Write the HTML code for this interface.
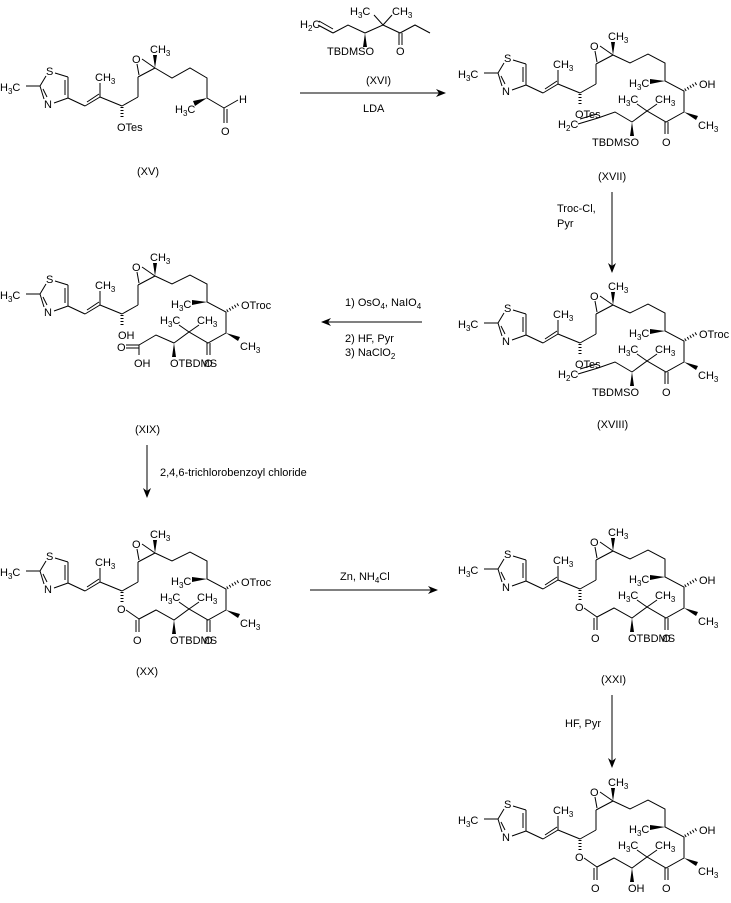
<!DOCTYPE html>
<html><head><meta charset="utf-8"><style>
html,body{margin:0;padding:0;background:#fff;}
svg{display:block;}
text{font-family:"Liberation Sans",sans-serif;font-size:11px;fill:#000;}
.s{font-size:8px;}
line,polyline{stroke:#000;stroke-width:1;fill:none;}
.h{stroke-width:3;stroke-dasharray:1 2;}
.w{fill:#000;stroke:none;}
</style></head><body>
<svg width="731" height="903" viewBox="0 0 731 903" xmlns="http://www.w3.org/2000/svg">
<defs>
<marker id="ar" markerWidth="10" markerHeight="8" refX="9" refY="4" orient="auto" markerUnits="userSpaceOnUse">
<path d="M0,0 L10,4 L0,8 L3,4 Z" fill="#000"/></marker>
</defs>

<!-- ================= XV ================= -->
<g transform="translate(-458,13)">
<text x="458" y="78">H<tspan class="s" dy="3">3</tspan><tspan dy="-3">C</tspan></text>
<line x1="484" y1="73" x2="498" y2="73"/><line x1="498" y1="73" x2="504" y2="63"/>
<text x="504" y="62">S</text>
<line x1="513" y1="60" x2="526" y2="64"/><line x1="526" y1="64" x2="526" y2="85"/><line x1="523" y1="67" x2="523" y2="82"/>
<line x1="526" y1="85" x2="512" y2="90"/><text x="502" y="95">N</text>
<line x1="502" y1="86" x2="498" y2="73"/><line x1="505" y1="84" x2="501" y2="76"/>
<line x1="526" y1="85" x2="543" y2="93"/><line x1="543" y1="93" x2="558" y2="84"/><line x1="545" y1="89" x2="557" y2="81"/>
<line x1="558" y1="84" x2="558" y2="70"/><text x="553" y="68">CH<tspan class="s" dy="3">3</tspan></text>
<line x1="558" y1="84" x2="580" y2="93"/><line class="h" x1="580" y1="94" x2="580" y2="106"/>
<text x="575" y="118">OTes</text>
<line x1="580" y1="93" x2="596" y2="84"/><line x1="596" y1="84" x2="596" y2="64"/>
<line x1="596" y1="64" x2="613" y2="55"/><line x1="597" y1="62" x2="595" y2="51"/><line x1="600" y1="46" x2="613" y2="55"/>
<text x="590" y="50">O</text>
<polygon class="w" points="613,55 611,42 615,42"/><text x="608" y="40">CH<tspan class="s" dy="3">3</tspan></text>
<polyline points="613,55 630,65 648,55 665,65 665,85 682,95"/>
<polygon class="w" points="665,85 651,88 653,93"/><text x="633" y="100">H<tspan class="s" dy="3">3</tspan><tspan dy="-3">C</tspan></text>
<line x1="682" y1="95" x2="696" y2="87"/><text x="697" y="90">H</text>
<line x1="682" y1="95" x2="682" y2="110"/><line x1="685" y1="96" x2="685" y2="110"/>
<text x="679" y="122">O</text>
</g>
<text x="137" y="175">(XV)</text>

<!-- Reagent XVI -->
<text x="300" y="28">H<tspan class="s" dy="3">2</tspan><tspan dy="-3">C</tspan></text>
<line x1="318" y1="25" x2="333" y2="33"/><line x1="319" y1="21" x2="333" y2="29"/>
<polyline points="333,33 348,25 365,33"/>
<polygon class="w" points="365,33 363,47 367,47"/><text x="327" y="55">TBDMSO</text>
<line x1="365" y1="33" x2="383" y2="25"/>
<line x1="383" y1="25" x2="374" y2="15"/><text x="350" y="15">H<tspan class="s" dy="3">3</tspan><tspan dy="-3">C</tspan></text>
<line x1="383" y1="25" x2="392" y2="15"/><text x="392" y="15">CH<tspan class="s" dy="3">3</tspan></text>
<line x1="383" y1="25" x2="400" y2="33"/><line x1="399" y1="33" x2="399" y2="45"/><line x1="402" y1="33" x2="402" y2="45"/>
<text x="396" y="55">O</text>
<polyline points="400,33 415,25 430,33"/>

<line x1="300" y1="93" x2="445" y2="93" marker-end="url(#ar)"/>
<text x="366" y="84">(XVI)</text><text x="363" y="112">LDA</text>

<!-- ================= XVII ================= -->
<g id="xvii">
<text x="458" y="78">H<tspan class="s" dy="3">3</tspan><tspan dy="-3">C</tspan></text>
<line x1="484" y1="73" x2="498" y2="73"/><line x1="498" y1="73" x2="504" y2="63"/>
<text x="504" y="62">S</text>
<line x1="513" y1="60" x2="526" y2="64"/><line x1="526" y1="64" x2="526" y2="85"/><line x1="523" y1="67" x2="523" y2="82"/>
<line x1="526" y1="85" x2="512" y2="90"/><text x="502" y="95">N</text>
<line x1="502" y1="86" x2="498" y2="73"/><line x1="505" y1="84" x2="501" y2="76"/>
<line x1="526" y1="85" x2="543" y2="93"/><line x1="543" y1="93" x2="558" y2="84"/><line x1="545" y1="89" x2="557" y2="81"/>
<line x1="558" y1="84" x2="558" y2="70"/><text x="553" y="68">CH<tspan class="s" dy="3">3</tspan></text>
<line x1="558" y1="84" x2="580" y2="93"/><line class="h" x1="580" y1="94" x2="580" y2="106"/>
<text x="575" y="118">OTes</text>
<line x1="580" y1="93" x2="596" y2="84"/><line x1="596" y1="84" x2="596" y2="64"/>
<line x1="596" y1="64" x2="613" y2="55"/><line x1="597" y1="62" x2="595" y2="51"/><line x1="600" y1="46" x2="613" y2="55"/>
<text x="590" y="50">O</text>
<polygon class="w" points="613,55 611,42 615,42"/><text x="608" y="40">CH<tspan class="s" dy="3">3</tspan></text>
<polyline points="613,55 630,63 648,54 665,63 665,81 684,91 684,112 666,122 647,111 632,122"/>
<polygon class="w" points="665,81 650,79 650,84"/><text x="629" y="87">H<tspan class="s" dy="3">3</tspan><tspan dy="-3">C</tspan></text>
<line class="h" x1="685" y1="90" x2="697" y2="83"/><text x="699" y="88">OH</text>
<polygon class="w" points="684,112 698,116 696,120"/><text x="698" y="129">CH<tspan class="s" dy="3">3</tspan></text>
<line x1="665" y1="122" x2="665" y2="134"/><line x1="668" y1="122" x2="668" y2="134"/><text x="662" y="146">O</text>
<line x1="647" y1="111" x2="637" y2="104"/><text x="618" y="103">H<tspan class="s" dy="3">3</tspan><tspan dy="-3">C</tspan></text>
<line x1="647" y1="111" x2="657" y2="104"/><text x="655" y="103">CH<tspan class="s" dy="3">3</tspan></text>
<polygon class="w" points="632,122 630,136 634,136"/><text x="592" y="146">TBDMSO</text>
<polyline points="632,122 615,112 598,118"/>
<line x1="598" y1="118" x2="578" y2="124"/><line x1="597" y1="114" x2="580" y2="119"/>
<text x="558" y="128">H<tspan class="s" dy="3">2</tspan><tspan dy="-3">C</tspan></text>
</g>
<text x="598" y="180">(XVII)</text>

<line x1="612" y1="192" x2="612" y2="272" marker-end="url(#ar)"/>
<text x="557" y="212">Troc-Cl,</text><text x="557" y="227">Pyr</text>

<!-- ================= XVIII ================= -->
<g transform="translate(0,250)">
<text x="458" y="78">H<tspan class="s" dy="3">3</tspan><tspan dy="-3">C</tspan></text>
<line x1="484" y1="73" x2="498" y2="73"/><line x1="498" y1="73" x2="504" y2="63"/>
<text x="504" y="62">S</text>
<line x1="513" y1="60" x2="526" y2="64"/><line x1="526" y1="64" x2="526" y2="85"/><line x1="523" y1="67" x2="523" y2="82"/>
<line x1="526" y1="85" x2="512" y2="90"/><text x="502" y="95">N</text>
<line x1="502" y1="86" x2="498" y2="73"/><line x1="505" y1="84" x2="501" y2="76"/>
<line x1="526" y1="85" x2="543" y2="93"/><line x1="543" y1="93" x2="558" y2="84"/><line x1="545" y1="89" x2="557" y2="81"/>
<line x1="558" y1="84" x2="558" y2="70"/><text x="553" y="68">CH<tspan class="s" dy="3">3</tspan></text>
<line x1="558" y1="84" x2="580" y2="93"/><line class="h" x1="580" y1="94" x2="580" y2="106"/>
<text x="575" y="118">OTes</text>
<line x1="580" y1="93" x2="596" y2="84"/><line x1="596" y1="84" x2="596" y2="64"/>
<line x1="596" y1="64" x2="613" y2="55"/><line x1="597" y1="62" x2="595" y2="51"/><line x1="600" y1="46" x2="613" y2="55"/>
<text x="590" y="50">O</text>
<polygon class="w" points="613,55 611,42 615,42"/><text x="608" y="40">CH<tspan class="s" dy="3">3</tspan></text>
<polyline points="613,55 630,63 648,54 665,63 665,81 684,91 684,112 666,122 647,111 632,122"/>
<polygon class="w" points="665,81 650,79 650,84"/><text x="629" y="87">H<tspan class="s" dy="3">3</tspan><tspan dy="-3">C</tspan></text>
<line class="h" x1="685" y1="90" x2="697" y2="83"/><text x="699" y="88">OTroc</text>
<polygon class="w" points="684,112 698,116 696,120"/><text x="698" y="129">CH<tspan class="s" dy="3">3</tspan></text>
<line x1="665" y1="122" x2="665" y2="134"/><line x1="668" y1="122" x2="668" y2="134"/><text x="662" y="146">O</text>
<line x1="647" y1="111" x2="637" y2="104"/><text x="618" y="103">H<tspan class="s" dy="3">3</tspan><tspan dy="-3">C</tspan></text>
<line x1="647" y1="111" x2="657" y2="104"/><text x="655" y="103">CH<tspan class="s" dy="3">3</tspan></text>
<polygon class="w" points="632,122 630,136 634,136"/><text x="592" y="146">TBDMSO</text>
<polyline points="632,122 615,112 598,118"/>
<line x1="598" y1="118" x2="578" y2="124"/><line x1="597" y1="114" x2="580" y2="119"/>
<text x="558" y="128">H<tspan class="s" dy="3">2</tspan><tspan dy="-3">C</tspan></text>
</g>
<text x="597" y="428">(XVIII)</text>

<line x1="422" y1="322" x2="322" y2="322" marker-end="url(#ar)"/>
<text x="345" y="306">1) OsO<tspan class="s" dy="3">4</tspan><tspan dy="-3">, NaIO</tspan><tspan class="s" dy="3">4</tspan></text>
<text x="345" y="342">2) HF, Pyr</text>
<text x="345" y="356">3) NaClO<tspan class="s" dy="3">2</tspan></text>

<!-- ================= XIX ================= -->
<g transform="translate(-458,221)">
<text x="458" y="78">H<tspan class="s" dy="3">3</tspan><tspan dy="-3">C</tspan></text>
<line x1="484" y1="73" x2="498" y2="73"/><line x1="498" y1="73" x2="504" y2="63"/>
<text x="504" y="62">S</text>
<line x1="513" y1="60" x2="526" y2="64"/><line x1="526" y1="64" x2="526" y2="85"/><line x1="523" y1="67" x2="523" y2="82"/>
<line x1="526" y1="85" x2="512" y2="90"/><text x="502" y="95">N</text>
<line x1="502" y1="86" x2="498" y2="73"/><line x1="505" y1="84" x2="501" y2="76"/>
<line x1="526" y1="85" x2="543" y2="93"/><line x1="543" y1="93" x2="558" y2="84"/><line x1="545" y1="89" x2="557" y2="81"/>
<line x1="558" y1="84" x2="558" y2="70"/><text x="553" y="68">CH<tspan class="s" dy="3">3</tspan></text>
<line x1="558" y1="84" x2="580" y2="93"/><line class="h" x1="580" y1="94" x2="580" y2="106"/>
<text x="576" y="118">OH</text>
<line x1="580" y1="93" x2="596" y2="84"/><line x1="596" y1="84" x2="596" y2="64"/>
<line x1="596" y1="64" x2="613" y2="55"/><line x1="597" y1="62" x2="595" y2="51"/><line x1="600" y1="46" x2="613" y2="55"/>
<text x="590" y="50">O</text>
<polygon class="w" points="613,55 611,42 615,42"/><text x="608" y="40">CH<tspan class="s" dy="3">3</tspan></text>
<polyline points="613,55 630,63 648,54 665,63 665,81 684,91 684,112 666,122 647,111 632,122"/>
<polygon class="w" points="665,81 650,79 650,84"/><text x="629" y="87">H<tspan class="s" dy="3">3</tspan><tspan dy="-3">C</tspan></text>
<line class="h" x1="685" y1="90" x2="697" y2="83"/><text x="699" y="88">OTroc</text>
<polygon class="w" points="684,112 698,116 696,120"/><text x="698" y="129">CH<tspan class="s" dy="3">3</tspan></text>
<line x1="665" y1="122" x2="665" y2="134"/><line x1="668" y1="122" x2="668" y2="134"/><text x="662" y="146">O</text>
<line x1="647" y1="111" x2="637" y2="104"/><text x="618" y="103">H<tspan class="s" dy="3">3</tspan><tspan dy="-3">C</tspan></text>
<line x1="647" y1="111" x2="657" y2="104"/><text x="655" y="103">CH<tspan class="s" dy="3">3</tspan></text>
<polygon class="w" points="632,122 630,136 634,136"/><text x="628" y="146">OTBDMS</text>
<polyline points="632,122 614,114 597,124"/>
<line x1="597" y1="124" x2="584" y2="124"/><line x1="597" y1="127" x2="584" y2="127"/>
<text x="575" y="130">O</text>
<line x1="597" y1="124" x2="597" y2="134"/><text x="592" y="146">OH</text>
</g>
<text x="135" y="433">(XIX)</text>

<line x1="147" y1="445" x2="147" y2="497" marker-end="url(#ar)"/>
<text x="160" y="476">2,4,6-trichlorobenzoyl chloride</text>

<!-- ================= XX ================= -->
<g transform="translate(-458,498)">
<text x="458" y="78">H<tspan class="s" dy="3">3</tspan><tspan dy="-3">C</tspan></text>
<line x1="484" y1="73" x2="498" y2="73"/><line x1="498" y1="73" x2="504" y2="63"/>
<text x="504" y="62">S</text>
<line x1="513" y1="60" x2="526" y2="64"/><line x1="526" y1="64" x2="526" y2="85"/><line x1="523" y1="67" x2="523" y2="82"/>
<line x1="526" y1="85" x2="512" y2="90"/><text x="502" y="95">N</text>
<line x1="502" y1="86" x2="498" y2="73"/><line x1="505" y1="84" x2="501" y2="76"/>
<line x1="526" y1="85" x2="543" y2="93"/><line x1="543" y1="93" x2="558" y2="84"/><line x1="545" y1="89" x2="557" y2="81"/>
<line x1="558" y1="84" x2="558" y2="70"/><text x="553" y="68">CH<tspan class="s" dy="3">3</tspan></text>
<line x1="558" y1="84" x2="580" y2="93"/><line class="h" x1="580" y1="94" x2="580" y2="104"/>
<text x="575" y="115">O</text>
<line x1="584" y1="112" x2="597" y2="121"/><line x1="597" y1="121" x2="597" y2="134"/><line x1="594" y1="122" x2="594" y2="134"/>
<text x="591" y="146">O</text>
<line x1="580" y1="93" x2="596" y2="84"/><line x1="596" y1="84" x2="596" y2="64"/>
<line x1="596" y1="64" x2="613" y2="55"/><line x1="597" y1="62" x2="595" y2="51"/><line x1="600" y1="46" x2="613" y2="55"/>
<text x="590" y="50">O</text>
<polygon class="w" points="613,55 611,42 615,42"/><text x="608" y="40">CH<tspan class="s" dy="3">3</tspan></text>
<polyline points="613,55 630,63 648,54 665,63 665,81 684,91 684,112 666,122 647,111 632,122 614,112 597,121"/>
<polygon class="w" points="665,81 650,79 650,84"/><text x="629" y="87">H<tspan class="s" dy="3">3</tspan><tspan dy="-3">C</tspan></text>
<line class="h" x1="685" y1="90" x2="697" y2="83"/><text x="699" y="88">OTroc</text>
<polygon class="w" points="684,112 698,116 696,120"/><text x="698" y="129">CH<tspan class="s" dy="3">3</tspan></text>
<line x1="665" y1="122" x2="665" y2="134"/><line x1="668" y1="122" x2="668" y2="134"/><text x="662" y="146">O</text>
<line x1="647" y1="111" x2="637" y2="104"/><text x="618" y="103">H<tspan class="s" dy="3">3</tspan><tspan dy="-3">C</tspan></text>
<line x1="647" y1="111" x2="657" y2="104"/><text x="655" y="103">CH<tspan class="s" dy="3">3</tspan></text>
<polygon class="w" points="632,122 630,136 634,136"/><text x="628" y="146">OTBDMS</text>
</g>
<text x="136" y="675">(XX)</text>

<line x1="310" y1="590" x2="437" y2="590" marker-end="url(#ar)"/>
<text x="340" y="580">Zn,  NH<tspan class="s" dy="3">4</tspan><tspan dy="-3">Cl</tspan></text>

<!-- ================= XXI ================= -->
<g transform="translate(0,496)">
<text x="458" y="78">H<tspan class="s" dy="3">3</tspan><tspan dy="-3">C</tspan></text>
<line x1="484" y1="73" x2="498" y2="73"/><line x1="498" y1="73" x2="504" y2="63"/>
<text x="504" y="62">S</text>
<line x1="513" y1="60" x2="526" y2="64"/><line x1="526" y1="64" x2="526" y2="85"/><line x1="523" y1="67" x2="523" y2="82"/>
<line x1="526" y1="85" x2="512" y2="90"/><text x="502" y="95">N</text>
<line x1="502" y1="86" x2="498" y2="73"/><line x1="505" y1="84" x2="501" y2="76"/>
<line x1="526" y1="85" x2="543" y2="93"/><line x1="543" y1="93" x2="558" y2="84"/><line x1="545" y1="89" x2="557" y2="81"/>
<line x1="558" y1="84" x2="558" y2="70"/><text x="553" y="68">CH<tspan class="s" dy="3">3</tspan></text>
<line x1="558" y1="84" x2="580" y2="93"/><line class="h" x1="580" y1="94" x2="580" y2="104"/>
<text x="575" y="115">O</text>
<line x1="584" y1="112" x2="597" y2="121"/><line x1="597" y1="121" x2="597" y2="134"/><line x1="594" y1="122" x2="594" y2="134"/>
<text x="591" y="146">O</text>
<line x1="580" y1="93" x2="596" y2="84"/><line x1="596" y1="84" x2="596" y2="64"/>
<line x1="596" y1="64" x2="613" y2="55"/><line x1="597" y1="62" x2="595" y2="51"/><line x1="600" y1="46" x2="613" y2="55"/>
<text x="590" y="50">O</text>
<polygon class="w" points="613,55 611,42 615,42"/><text x="608" y="40">CH<tspan class="s" dy="3">3</tspan></text>
<polyline points="613,55 630,63 648,54 665,63 665,81 684,91 684,112 666,122 647,111 632,122 614,112 597,121"/>
<polygon class="w" points="665,81 650,79 650,84"/><text x="629" y="87">H<tspan class="s" dy="3">3</tspan><tspan dy="-3">C</tspan></text>
<line class="h" x1="685" y1="90" x2="697" y2="83"/><text x="699" y="88">OH</text>
<polygon class="w" points="684,112 698,116 696,120"/><text x="698" y="129">CH<tspan class="s" dy="3">3</tspan></text>
<line x1="665" y1="122" x2="665" y2="134"/><line x1="668" y1="122" x2="668" y2="134"/><text x="662" y="146">O</text>
<line x1="647" y1="111" x2="637" y2="104"/><text x="618" y="103">H<tspan class="s" dy="3">3</tspan><tspan dy="-3">C</tspan></text>
<line x1="647" y1="111" x2="657" y2="104"/><text x="655" y="103">CH<tspan class="s" dy="3">3</tspan></text>
<polygon class="w" points="632,122 630,136 634,136"/><text x="628" y="146">OTBDMS</text>
</g>
<text x="601" y="683">(XXI)</text>

<line x1="612" y1="695" x2="612" y2="767" marker-end="url(#ar)"/>
<text x="565" y="727">HF, Pyr</text>

<!-- ================= XXII ================= -->
<g transform="translate(0,746)">
<text x="458" y="78">H<tspan class="s" dy="3">3</tspan><tspan dy="-3">C</tspan></text>
<line x1="484" y1="73" x2="498" y2="73"/><line x1="498" y1="73" x2="504" y2="63"/>
<text x="504" y="62">S</text>
<line x1="513" y1="60" x2="526" y2="64"/><line x1="526" y1="64" x2="526" y2="85"/><line x1="523" y1="67" x2="523" y2="82"/>
<line x1="526" y1="85" x2="512" y2="90"/><text x="502" y="95">N</text>
<line x1="502" y1="86" x2="498" y2="73"/><line x1="505" y1="84" x2="501" y2="76"/>
<line x1="526" y1="85" x2="543" y2="93"/><line x1="543" y1="93" x2="558" y2="84"/><line x1="545" y1="89" x2="557" y2="81"/>
<line x1="558" y1="84" x2="558" y2="70"/><text x="553" y="68">CH<tspan class="s" dy="3">3</tspan></text>
<line x1="558" y1="84" x2="580" y2="93"/><line class="h" x1="580" y1="94" x2="580" y2="104"/>
<text x="575" y="115">O</text>
<line x1="584" y1="112" x2="597" y2="121"/><line x1="597" y1="121" x2="597" y2="134"/><line x1="594" y1="122" x2="594" y2="134"/>
<text x="591" y="146">O</text>
<line x1="580" y1="93" x2="596" y2="84"/><line x1="596" y1="84" x2="596" y2="64"/>
<line x1="596" y1="64" x2="613" y2="55"/><line x1="597" y1="62" x2="595" y2="51"/><line x1="600" y1="46" x2="613" y2="55"/>
<text x="590" y="50">O</text>
<polygon class="w" points="613,55 611,42 615,42"/><text x="608" y="40">CH<tspan class="s" dy="3">3</tspan></text>
<polyline points="613,55 630,63 648,54 665,63 665,81 684,91 684,112 666,122 647,111 632,122 614,112 597,121"/>
<polygon class="w" points="665,81 650,79 650,84"/><text x="629" y="87">H<tspan class="s" dy="3">3</tspan><tspan dy="-3">C</tspan></text>
<line class="h" x1="685" y1="90" x2="697" y2="83"/><text x="699" y="88">OH</text>
<polygon class="w" points="684,112 698,116 696,120"/><text x="698" y="129">CH<tspan class="s" dy="3">3</tspan></text>
<line x1="665" y1="122" x2="665" y2="134"/><line x1="668" y1="122" x2="668" y2="134"/><text x="662" y="146">O</text>
<line x1="647" y1="111" x2="637" y2="104"/><text x="618" y="103">H<tspan class="s" dy="3">3</tspan><tspan dy="-3">C</tspan></text>
<line x1="647" y1="111" x2="657" y2="104"/><text x="655" y="103">CH<tspan class="s" dy="3">3</tspan></text>
<polygon class="w" points="632,122 630,136 634,136"/><text x="628" y="146">OH</text>
</g>
</svg>
</body></html>
